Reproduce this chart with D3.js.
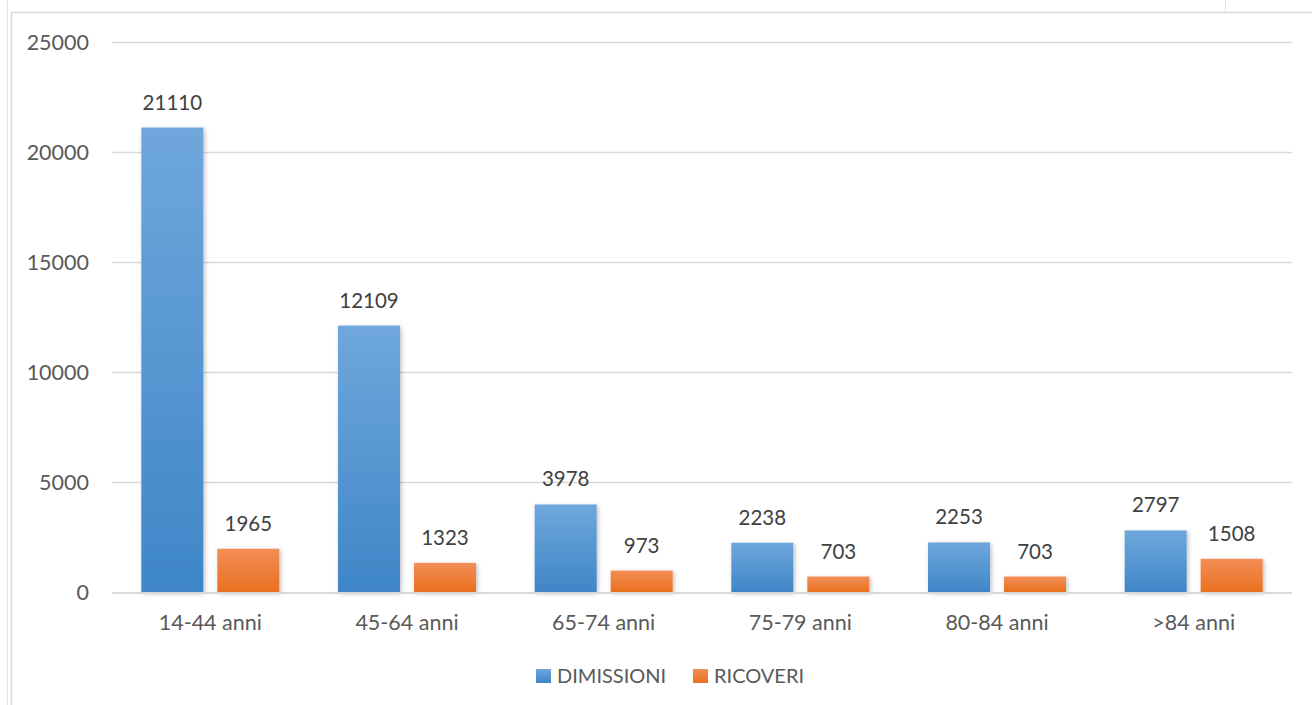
<!DOCTYPE html>
<html>
<head>
<meta charset="utf-8">
<script src="https://cdn.jsdelivr.net/npm/d3@7"></script>
<style>
  html, body { margin: 0; padding: 0; background: #fff; }
  svg { display: block; }
  text { font-family: Lato, "Open Sans", sans-serif; }
</style>
</head>
<body>
<svg id="chart" width="1312" height="705"></svg>
<script>
const categories = ["14-44 anni", "45-64 anni", "65-74 anni", "75-79 anni", "80-84 anni", ">84 anni"];
const seriesNames = ["DIMISSIONI", "RICOVERI"];
const dimissioni = [21110, 12109, 3978, 2238, 2253, 2797];
const ricoveri = [1965, 1323, 973, 703, 703, 1508];
const yTicks = [0, 5000, 10000, 15000, 20000, 25000];

const svg = d3.select("#chart");
const W = 1312, H = 705;
const plot = { left: 112, right: 1292, top: 42, bottom: 592 };

// frame lines
svg.append("line").attr("x1", 7.5).attr("x2", 7.5).attr("y1", 0).attr("y2", H).attr("stroke", "#e3e3e3").attr("stroke-width", 1);
svg.append("line").attr("x1", 11.5).attr("x2", 11.5).attr("y1", 12).attr("y2", H).attr("stroke", "#d9d9d9").attr("stroke-width", 1.5);
svg.append("line").attr("x1", 11).attr("x2", W).attr("y1", 12.5).attr("y2", 12.5).attr("stroke", "#d9d9d9").attr("stroke-width", 1.5);
svg.append("line").attr("x1", 1225.5).attr("x2", 1225.5).attr("y1", 0).attr("y2", 12).attr("stroke", "#e3e3e3").attr("stroke-width", 1);

const defs = svg.append("defs");
const gBlue = defs.append("linearGradient").attr("id", "gBlue").attr("x1", 0).attr("y1", 0).attr("x2", 0).attr("y2", 1);
gBlue.append("stop").attr("offset", "0%").attr("stop-color", "#6fa7dc");
gBlue.append("stop").attr("offset", "100%").attr("stop-color", "#3f86c7");
const gOrange = defs.append("linearGradient").attr("id", "gOrange").attr("x1", 0).attr("y1", 0).attr("x2", 0).attr("y2", 1);
gOrange.append("stop").attr("offset", "0%").attr("stop-color", "#f28e57");
gOrange.append("stop").attr("offset", "100%").attr("stop-color", "#e9701f");
const shadow = defs.append("filter").attr("id", "shadow").attr("x", "-20%").attr("y", "-20%").attr("width", "140%").attr("height", "140%");
shadow.append("feDropShadow").attr("dx", 1.5).attr("dy", 1.5).attr("stdDeviation", 2).attr("flood-color", "#000").attr("flood-opacity", 0.25);

const y = d3.scaleLinear().domain([0, 25000]).range([plot.bottom, plot.top]);
const x0 = d3.scaleBand().domain(categories).range([plot.left, plot.right]).paddingInner(0).paddingOuter(0);
const x1 = d3.scaleBand().domain(seriesNames).range([0, 138]).paddingInner(0.184).paddingOuter(0);

// grid
const grid = svg.append("g");
grid.selectAll("line").data(yTicks.filter(t => t > 0)).join("line")
  .attr("x1", plot.left).attr("x2", plot.right)
  .attr("y1", d => Math.round(y(d)) + 0.5).attr("y2", d => Math.round(y(d)) + 0.5)
  .attr("stroke", "#d9d9d9").attr("stroke-width", 1.5);

// y axis labels
const yAxis = d3.axisLeft(y).tickValues(yTicks).tickSize(0).tickPadding(0).tickFormat(d3.format("d"));
const ya = svg.append("g").attr("transform", `translate(89,0)`).call(yAxis);
ya.select(".domain").remove();
ya.selectAll("text").attr("font-size", 21.5).attr("fill", "#595959").attr("font-family", "Lato, sans-serif").attr("dy", "0.35em");

// bars
const data = categories.map((c, i) => ({ cat: c, vals: [
  { s: seriesNames[0], v: dimissioni[i], fill: "url(#gBlue)" },
  { s: seriesNames[1], v: ricoveri[i], fill: "url(#gOrange)" } ] }));

const groups = svg.append("g").selectAll("g").data(data).join("g")
  .attr("transform", d => `translate(${x0(d.cat) + x0.bandwidth() / 2 - 69},0)`);

groups.selectAll("rect").data(d => d.vals).join("rect")
  .attr("x", d => x1(d.s))
  .attr("width", x1.bandwidth())
  .attr("y", d => y(d.v))
  .attr("height", d => y(0) - y(d.v))
  .attr("fill", d => d.fill)
  .attr("filter", "url(#shadow)");

groups.selectAll("text").data(d => d.vals).join("text")
  .attr("x", d => x1(d.s) + x1.bandwidth() / 2)
  .attr("y", d => y(d.v) - 18)
  .attr("text-anchor", "middle")
  .attr("font-size", 20.5)
  .attr("fill", "#404040")
  .text(d => d.v);

// x axis line
svg.append("line").attr("x1", plot.left).attr("x2", plot.right)
  .attr("y1", plot.bottom + 1).attr("y2", plot.bottom + 1)
  .attr("stroke", "#d9d9d9").attr("stroke-width", 2);

const xAxis = d3.axisBottom(x0).tickSize(0).tickPadding(0);
const xa = svg.append("g").attr("transform", `translate(0,${plot.bottom})`).call(xAxis);
xa.select(".domain").remove();
xa.selectAll("text").attr("font-size", 21.5).attr("fill", "#595959").attr("font-family", "Lato, sans-serif").attr("y", 30).attr("dy", "0.35em");

// legend
const legendColors = ["url(#gBlue)", "url(#gOrange)"];
const legendX = [536, 693];
const lg = svg.append("g").selectAll("g").data(seriesNames).join("g")
  .attr("transform", (d, i) => `translate(${legendX[i]},669)`);
lg.append("rect").attr("width", 15).attr("height", 14).attr("fill", (d, i) => legendColors[i]);
lg.append("text").attr("x", 21).attr("y", 7).attr("dy", "0.35em").attr("font-size", 20).attr("fill", "#595959").text(d => d);
</script>
</body>
</html>
